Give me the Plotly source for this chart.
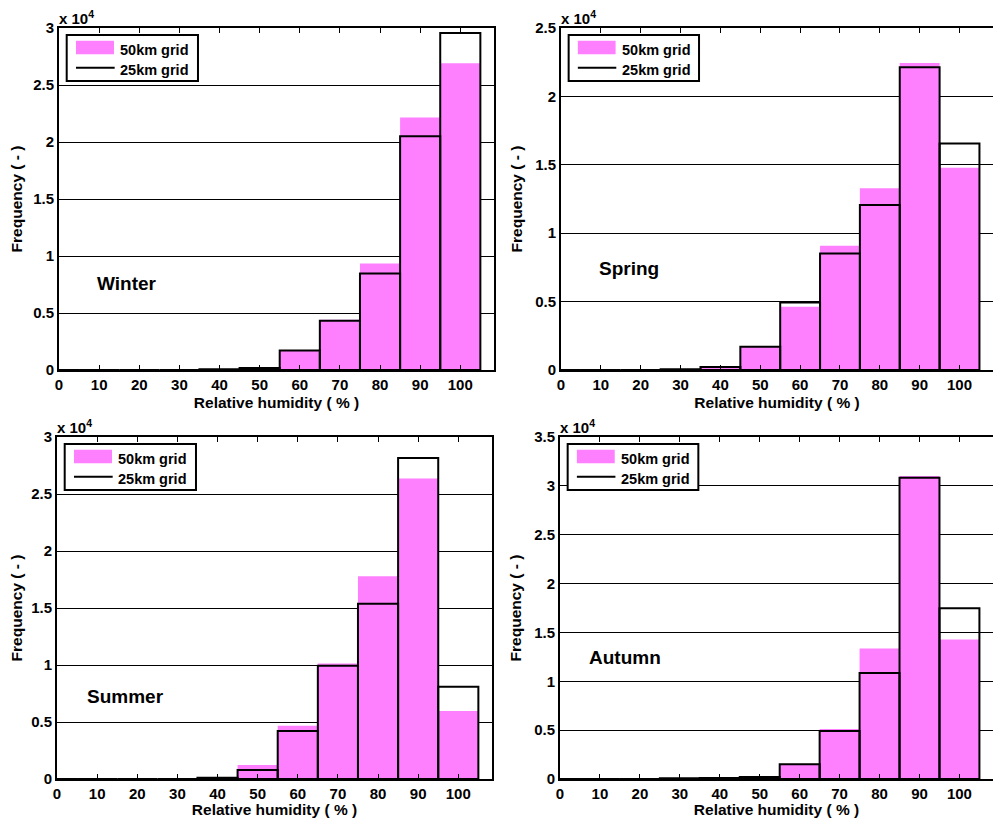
import plotly.graph_objects as go

# ---------------- data ----------------
bin_centers = [0, 10, 20, 30, 40, 50, 60, 70, 80, 90, 100]
x_tick_vals = [0, 10, 20, 30, 40, 50, 60, 70, 80, 90, 100]
x_tick_text = ["0", "10", "20", "30", "40", "50", "60", "70", "80", "90", "100"]

seasons = ["Winter", "Spring", "Summer", "Autumn"]

winter_50km = [0, 0, 0, 0, 80, 230, 1700, 4400, 9340, 22150, 26900]
winter_25km = [0, 0, 0, 0, 60, 180, 1700, 4330, 8460, 20500, 29560]

spring_50km = [0, 0, 0, 50, 240, 1700, 4620, 9080, 13290, 22440, 14780]
spring_25km = [0, 0, 0, 50, 220, 1700, 4940, 8520, 12070, 22130, 16550]

summer_50km = [0, 0, 0, 0, 90, 1230, 4670, 10140, 17790, 26350, 5960]
summer_25km = [0, 0, 0, 0, 120, 790, 4210, 9930, 15370, 28160, 8090]

autumn_50km = [0, 0, 0, 100, 100, 240, 1530, 5110, 13360, 31000, 14280]
autumn_25km = [0, 0, 0, 80, 100, 200, 1500, 4910, 10840, 30840, 17480]

y_max = [30000, 25000, 30000, 35000]
y_tick_vals_all = [0, 5000, 10000, 15000, 20000, 25000, 30000, 35000]
y_tick_text_all = ["0", "0.5", "1", "1.5", "2", "2.5", "3", "3.5"]

series_50 = [winter_50km, spring_50km, summer_50km, autumn_50km]
series_25 = [winter_25km, spring_25km, summer_25km, autumn_25km]
legend_names = ["50km grid", "25km grid"]

# ---------------- styles / layout ----------------
PAGE_MARGIN = 8               # default browser body margin
W, H = 1001 - 2 * PAGE_MARGIN, 826 - 2 * PAGE_MARGIN
PINK = "rgb(255,128,255)"
FONT = "Liberation Sans, Arial, sans-serif"

# plot boxes in screen pixels (left, right, top, bottom)
boxes = [(59, 494, 28, 370), (561, 993, 28, 370),
         (57, 492, 437, 779), (560, 993, 437, 779)]
season_pos = [(0.157, 0.252), (0.158, 0.298), (0.157, 0.240), (0.151, 0.355)]

fig = go.Figure()

for i in range(4):
    n = "" if i == 0 else str(i + 1)
    xa, ya = "x" + n, "y" + n
    fig.add_trace(go.Bar(x=bin_centers, y=series_50[i], width=10, name=legend_names[0],
                         marker=dict(color=PINK, line=dict(width=0)),
                         xaxis=xa, yaxis=ya, showlegend=False))
    fig.add_trace(go.Bar(x=bin_centers, y=series_25[i], width=10, name=legend_names[1],
                         marker=dict(color="rgba(0,0,0,0)", line=dict(color="black", width=2)),
                         xaxis=xa, yaxis=ya, showlegend=False))

    l, r, t, b = [v - PAGE_MARGIN for v in boxes[i]]
    tv = [v for v in y_tick_vals_all if v <= y_max[i]]
    tt = y_tick_text_all[:len(tv)]
    axis_common = dict(showline=True, linewidth=2, linecolor="black", mirror="ticks",
                       ticks="inside", ticklen=5, tickwidth=1, tickcolor="black",
                       automargin=False, zeroline=False,
                       tickfont=dict(family=FONT, size=15, color="black", weight="bold"))
    fig.layout["xaxis" + n] = dict(
        domain=[l / W, min(r / W, 1.0)], anchor=ya, range=[0, 108.4],
        tickvals=x_tick_vals, ticktext=x_tick_text, showgrid=False,
        title=dict(text="Relative humidity ( % )", standoff=5,
                   font=dict(family=FONT, size=15.5, color="black", weight="bold")),
        **axis_common)
    fig.layout["yaxis" + n] = dict(
        domain=[max(1 - b / H, 0.0), 1 - t / H], anchor=xa, range=[0, y_max[i]],
        tickvals=tv, ticktext=tt, showgrid=True, gridcolor="black", gridwidth=1,
        title=dict(text="Frequency ( - )", standoff=9,
                   font=dict(family=FONT, size=15.5, color="black", weight="bold")),
        **axis_common)

    xd, yd = xa + " domain", ya + " domain"
    # legend box (MATLAB style)
    fig.add_shape(type="rect", xref=xd, yref=yd, x0=0.0177, x1=0.3195, y0=0.845, y1=0.9795,
                  line=dict(color="black", width=2), fillcolor="white", layer="above")
    fig.add_shape(type="rect", xref=xd, yref=yd, x0=0.039, x1=0.1264, y0=0.923, y1=0.963,
                  line=dict(width=0), fillcolor=PINK, layer="above")
    fig.add_shape(type="line", xref=xd, yref=yd, x0=0.039, x1=0.128, y0=0.884, y1=0.884,
                  line=dict(color="black", width=2), layer="above")
    for txt, yy in zip(legend_names, [0.936, 0.877]):
        fig.add_annotation(xref=xd, yref=yd, x=0.136, y=yy, text=txt, showarrow=False,
                           xanchor="left", yanchor="middle",
                           font=dict(family=FONT, size=14.5, color="black", weight="bold"))
    # season label
    fig.add_annotation(xref=xd, yref=yd, x=season_pos[i][0], y=season_pos[i][1],
                       text=seasons[i], showarrow=False, xanchor="center", yanchor="middle",
                       font=dict(family=FONT, size=19, color="black", weight="bold"))
    # exponent label
    fig.add_annotation(xref=xd, yref=yd, x=0, y=1, text="x 10<sup>4</sup>", showarrow=False,
                       xanchor="left", yanchor="bottom", yshift=-1, xshift=-2,
                       font=dict(family=FONT, size=15, color="black", weight="bold"))

fig.update_layout(width=W, height=H, margin=dict(l=0, r=0, t=0, b=0),
                  paper_bgcolor="white", plot_bgcolor="white", barmode="overlay",
                  showlegend=False)

fig.write_html("out.html")
